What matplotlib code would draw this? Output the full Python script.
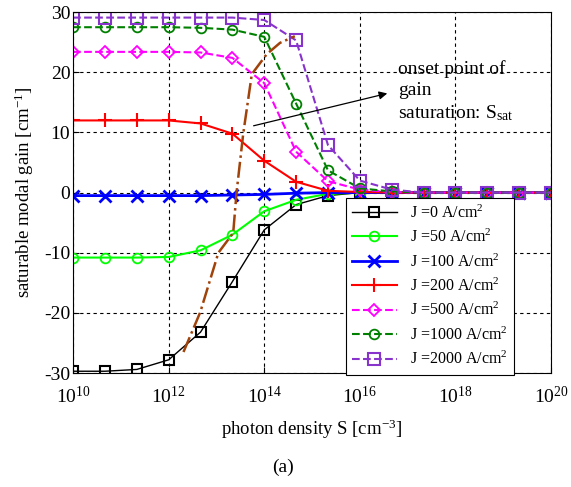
import numpy as np
import matplotlib
matplotlib.use('Agg')
import matplotlib.pyplot as plt

plt.rcParams['font.family'] = 'Liberation Serif'
plt.rcParams['mathtext.fontset'] = 'custom'
plt.rcParams['mathtext.rm'] = 'Liberation Serif'
plt.rcParams['mathtext.it'] = 'Liberation Serif:italic'

# photon density S [cm^-3], 16 points from 1e10 to 1e20
S = 10 ** np.linspace(10, 20, 16)

g_0 = [-29.7, -29.7, -29.4, -27.8, -23.2, -14.8, -6.2, -2.0, -0.5, 0, 0, 0, 0, 0, 0, 0]
g_50 = [-10.8, -10.8, -10.8, -10.7, -9.6, -7.0, -3.1, -1.2, -0.2, 0, 0, 0, 0, 0, 0, 0]
g_100 = [-0.5, -0.5, -0.5, -0.5, -0.5, -0.4, -0.3, -0.1, 0, 0, 0, 0, 0, 0, 0, 0]
g_200 = [12.0, 12.0, 12.0, 12.0, 11.5, 9.8, 5.3, 1.8, 0.3, 0.1, 0, 0, 0, 0, 0, 0]
g_500 = [23.4, 23.4, 23.4, 23.4, 23.3, 22.4, 18.2, 6.8, 1.9, 0.5, 0.1, 0, 0, 0, 0, 0]
g_1000 = [27.5, 27.5, 27.5, 27.5, 27.4, 27.1, 25.9, 14.8, 3.7, 0.7, 0.2, 0, 0, 0, 0, 0]
g_2000 = [29.1, 29.1, 29.1, 29.1, 29.1, 29.1, 28.7, 25.3, 7.9, 2.0, 0.5, 0, 0, 0, 0, 0]

# onset of gain saturation (S_sat) curve
S_sat = 10 ** np.array([12.31, 12.66, 13.04, 13.35, 13.42, 13.56, 13.74, 14.05, 14.33, 14.64])
g_sat = [-26.5, -19.9, -10.0, -6.7, 0.0, 9.8, 19.7, 23.0, 24.9, 26.0]

fig = plt.figure(figsize=(5.71, 4.87), dpi=100)
ax = fig.add_axes([0.128, 0.234, 0.837, 0.741])

ms = 7
ax.semilogx(S, g_0, '-', color='black', lw=1.0, marker='s', ms=ms, mfc='none', mew=1.5, label='J =0 A/cm$^2$')
ax.semilogx(S, g_50, '-', color='#00ff00', lw=1.5, marker='o', ms=ms, mfc='none', mew=1.3, label='J =50 A/cm$^2$')
ax.semilogx(S, g_100, '-', color='blue', lw=2.0, marker='x', ms=ms + 1, mew=2, label='J =100 A/cm$^2$')
ax.semilogx(S, g_200, '-', color='red', lw=1.5, marker='+', ms=ms + 3, mew=1.5, label='J =200 A/cm$^2$')
ax.semilogx(S, g_500, '--', color='magenta', lw=1.5, marker='D', ms=ms - 1, mfc='none', mew=1.3, label='J =500 A/cm$^2$')
ax.semilogx(S, g_1000, '--', color='green', lw=1.5, marker='o', ms=ms, mfc='none', mew=1.3, label='J =1000 A/cm$^2$')
ax.semilogx(S, g_2000, '--', color='#8833cc', lw=1.5, marker='s', ms=ms + 1, mfc='none', mew=1.5, label='J =2000 A/cm$^2$')
ax.semilogx(S_sat, g_sat, '-.', color='#a0420a', lw=1.8)

ax.set_xlim(1e10, 1e20)
ax.set_ylim(-30, 30)
ax.set_xticks([1e10, 1e12, 1e14, 1e16, 1e18, 1e20])
ax.set_xticks([], minor=True)
ax.set_yticks([-30, -20, -10, 0, 10, 20, 30])
ax.grid(True, color='black', linestyle=(0, (3, 3)), lw=0.8)
ax.tick_params(direction='in', labelsize=14, length=4)
ax.tick_params(axis='x', pad=9)
ax.tick_params(axis='y', pad=2)
ax.set_yticklabels(['-30', '-20', '-10', '0', '10', '20', '30'])

ax.set_xlabel('photon density S [cm$^{-3}$]', fontsize=13.5, labelpad=8)
ax.set_ylabel('saturable modal gain [cm$^{-1}$]', fontsize=13.5, labelpad=6)

ax.annotate('', xy=(10 ** 16.63, 16.6), xytext=(10 ** 13.72, 11.0),
            arrowprops=dict(arrowstyle='-|>', color='black', lw=0.9, mutation_scale=12))
ax.text(10 ** 16.8, 22.0, 'onset point of\ngain\nsaturation: S$_{\\rm sat}$', fontsize=14,
        va='top', ha='left', linespacing=1.3)

leg = ax.legend(loc='lower right', bbox_to_anchor=(0.922, -0.005), fontsize=11.5,
                handlelength=2.8, labelspacing=0.45, fancybox=False, framealpha=1,
                edgecolor='black', borderaxespad=0)
leg.get_frame().set_linewidth(0.8)

fig.text(0.496, 0.03, '(a)', fontsize=14, ha='center')

fig.savefig('out.png', dpi=100)
